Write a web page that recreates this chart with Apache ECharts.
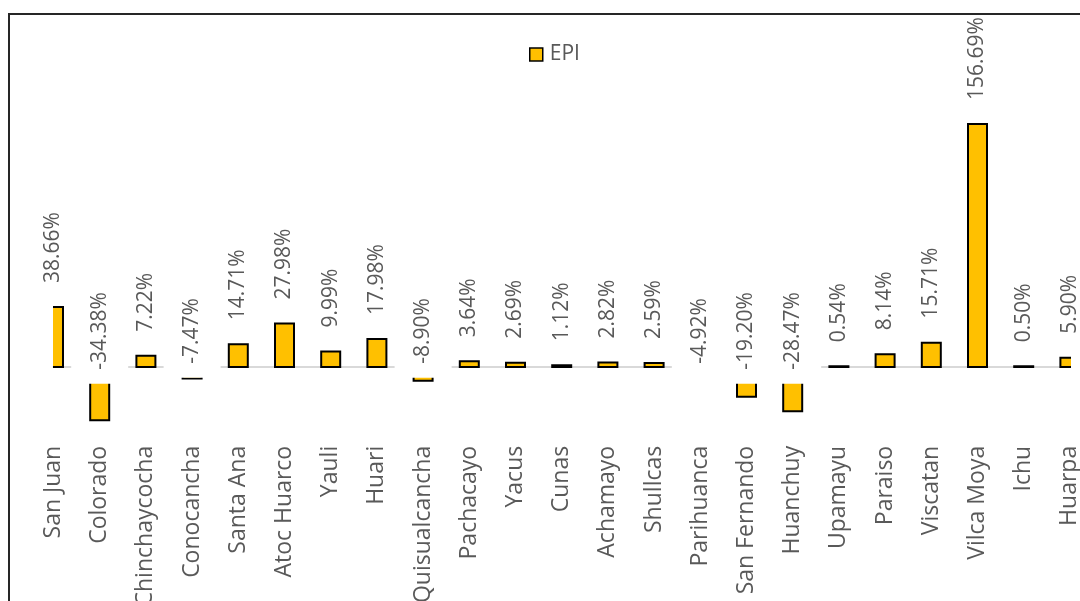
<!DOCTYPE html>
<html>
<head>
<meta charset="utf-8">
<script src="https://cdn.jsdelivr.net/npm/echarts@6/dist/echarts.min.js"></script>
<style>
html,body{margin:0;padding:0;background:#fff;}
#chart{width:1080px;height:601px;}
</style>
</head>
<body>
<div id="chart"></div>
<script>
const categories = ['San Juan','Colorado','Chinchaycocha','Conocancha','Santa Ana','Atoc Huarco','Yauli','Huari','Quisualcancha','Pachacayo','Yacus','Cunas','Achamayo','Shullcas','Parihuanca','San Fernando','Huanchuy','Upamayu','Paraiso','Viscatan','Vilca Moya','Ichu','Huarpa'];
const epiValues = [38.66, -34.38, 7.22, -7.47, 14.71, 27.98, 9.99, 17.98, -8.90, 3.64, 2.69, 1.12, 2.82, 2.59, -4.92, -19.20, -28.47, 0.54, 8.14, 15.71, 156.69, 0.50, 5.90];
const seriesName = 'EPI';

const FONT = 'Open Sans';
const labelColor = '#595959';
const barColor = '#FFC000';
const BAR_W = 19;

const negLabel = {
  position: 'top', distance: 36, rotate: 90, align: 'center', verticalAlign: 'middle',
  backgroundColor: '#ffffff', padding: [18, 14, 18, 14]
};
const labelData = epiValues.map(v => v < 0 ? { value: v, label: negLabel } : v);
const rectData = epiValues.map((v, i) => [i, v]);

const chart = echarts.init(document.getElementById('chart'), null, { renderer: 'canvas' });
chart.setOption({
  backgroundColor: '#ffffff',
  animation: false,
  graphic: [{
    type: 'rect', silent: true, z: 0,
    shape: { x: 9, y: 14, width: 1200, height: 700 },
    style: { fill: 'none', stroke: '#262626', lineWidth: 2 }
  }],
  legend: {
    data: [seriesName], left: 529, top: 44, padding: 0,
    itemWidth: 13, itemHeight: 13, itemGap: 10,
    icon: 'rect',
    itemStyle: { color: barColor, borderColor: '#000000', borderWidth: 1.5 },
    textStyle: { fontFamily: FONT, fontSize: 21, color: labelColor, padding: [0, 0, 0, 2] }
  },
  grid: { left: 53.5, right: 10.1, top: 103.3, bottom: 164.2, containLabel: false, outerBoundsMode: 'none' },
  xAxis: [{
    type: 'category', data: categories, boundaryGap: false,
    position: 'bottom',
    axisLine: { show: false, onZero: false },
    axisTick: { show: false },
    splitLine: { show: false },
    axisLabel: { interval: 0, rotate: 90, margin: 9, fontFamily: FONT, fontSize: 23, color: labelColor }
  }, {
    type: 'category', data: categories, boundaryGap: false,
    axisLine: { show: true, onZero: true, lineStyle: { color: '#d9d9d9', width: 2 } },
    axisTick: { show: false },
    axisLabel: { show: false },
    splitLine: { show: false }
  }],
  yAxis: {
    type: 'value', min: -45, max: 170, show: false,
    splitLine: { show: false }
  },
  series: [{
    name: seriesName, type: 'custom', xAxisIndex: 0, z: 1, clip: true,
    data: rectData, encode: { x: 0, y: 1 },
    itemStyle: { color: barColor },
    renderItem: (params, api) => {
      const i = api.value(0), v = api.value(1);
      const top = api.coord([i, v]);
      const base = api.coord([i, 0]);
      return {
        type: 'rect',
        shape: { x: base[0] - BAR_W / 2, y: Math.min(top[1], base[1]), width: BAR_W, height: Math.abs(base[1] - top[1]) },
        style: { fill: barColor, stroke: '#000000', lineWidth: 2 }
      };
    }
  }, {
    name: seriesName + ' labels', type: 'bar', data: labelData, barWidth: BAR_W,
    xAxisIndex: 0, z: 2, silent: true,
    itemStyle: { color: 'rgba(0,0,0,0)', borderWidth: 0 },
    label: {
      show: true, position: 'top', distance: 24, rotate: 90,
      align: 'left', verticalAlign: 'middle',
      fontFamily: FONT, fontSize: 21, color: labelColor,
      formatter: p => p.value.toFixed(2) + '%'
    }
  }]
});
</script>
</body>
</html>
